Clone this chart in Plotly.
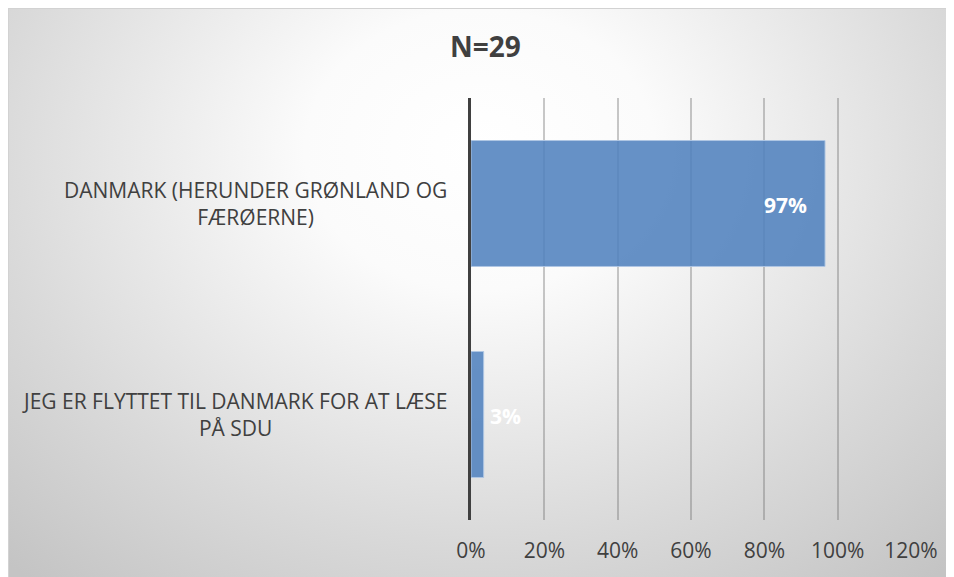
import plotly.graph_objects as go

# ---- data ----
categories = ["DANMARK (HERUNDER GRØNLAND OG FÆRØERNE)",
              "JEG ER FLYTTET TIL DANMARK FOR AT LÆSE PÅ SDU"]
category_lines = ["DANMARK (HERUNDER GRØNLAND OG<br>FÆRØERNE)",
                  "JEG ER FLYTTET TIL DANMARK FOR AT LÆSE<br>PÅ SDU"]
values = [0.9655, 0.0345]
value_labels = ["97%", "3%"]
tick_vals = [0, 0.2, 0.4, 0.6, 0.8, 1.0, 1.2]
tick_text = ["0%", "20%", "40%", "60%", "80%", "100%", "120%"]
title_text = "N=29"

# the page body adds an 8px margin; lay the figure out in screen pixels
SW, SH = 954, 577
OFF = 8
W, H = SW - OFF, SH - OFF
FONT = "Open Sans"
TXT = "#404040"


def px(sx):
    return (sx - OFF) / W


def py(sy):
    return 1 - (sy - OFF) / H


fig = go.Figure()

# background panel with radial gradient (own subplot, drawn first)
cx, cy, hw, hh = 480, 150, 700, 560
fig.add_trace(go.Scatter(
    x=[cx - hw, cx + hw, cx + hw, cx - hw, cx - hw],
    y=[cy - hh, cy - hh, cy + hh, cy + hh, cy - hh],
    mode="lines", fill="toself", line=dict(width=0),
    fillgradient=dict(type="radial",
                      colorscale=[[0, "#ffffff"], [0.25, "#fbfbfb"],
                                  [0.7, "#d9d9d9"], [1, "#c4c4c4"]]),
    hoverinfo="skip", showlegend=False, xaxis="x", yaxis="y"))

# bars
fig.add_trace(go.Bar(
    y=categories, x=values, orientation="h",
    marker=dict(color="rgba(79,129,189,0.87)",
                line=dict(color="rgba(175,198,228,0.95)", width=1)),
    hoverinfo="skip", showlegend=False, xaxis="x2", yaxis="y2"))

annotations = []
for cat, lines in zip(categories, category_lines):
    annotations.append(dict(
        xref="x2", yref="y2", x=0, y=cat, xanchor="right", yanchor="middle",
        xshift=-22, align="center", showarrow=False, text=lines,
        font=dict(family=FONT, size=21, color=TXT)))
for cat, v, lab in zip(categories, values, value_labels):
    inside = v > 0.5
    annotations.append(dict(
        xref="x2", yref="y2", x=v, y=cat,
        xanchor="right" if inside else "left", yanchor="middle",
        xshift=-16 if inside else 4, yshift=-1, showarrow=False, text="<b>" + lab + "</b>",
        font=dict(family=FONT, size=21, color="white")))
annotations.append(dict(
    xref="paper", yref="paper", x=px(485.5), y=py(46),
    xanchor="center", yanchor="middle", showarrow=False,
    text="<b>" + title_text + "</b>",
    font=dict(family=FONT, size=28, color=TXT)))

fig.update_layout(
    width=W, height=H,
    margin=dict(l=0, r=0, t=0, b=0, autoexpand=False),
    paper_bgcolor="white",
    plot_bgcolor="rgba(0,0,0,0)",
    bargap=0.403,
    showlegend=False,
    annotations=annotations,
    xaxis=dict(domain=[0, 1], range=[OFF, SW], visible=False, fixedrange=True,
               automargin=False),
    yaxis=dict(domain=[0, 1], range=[SH, OFF], visible=False, fixedrange=True,
               automargin=False),
    xaxis2=dict(domain=[px(471), px(911)], range=[0, 1.2], anchor="y2",
                automargin=False,
                tickvals=tick_vals, ticktext=tick_text,
                showgrid=True, gridcolor="rgba(110,110,110,0.38)", gridwidth=1.5,
                zeroline=False, showline=False,
                ticks="outside", ticklen=12, tickcolor="rgba(0,0,0,0)",
                tickfont=dict(family=FONT, size=21, color=TXT)),
    yaxis2=dict(domain=[py(520), py(98)], anchor="x2",
                automargin=False,
                autorange="reversed", showticklabels=False, ticks="",
                showline=True, linecolor="#404040", linewidth=3,
                showgrid=False, zeroline=False),
    shapes=[
        dict(type="line", xref="paper", yref="paper", x0=0, x1=1,
             y0=1 - 0.5 / H, y1=1 - 0.5 / H, line=dict(color="#d2d2d2", width=1)),
        dict(type="line", xref="paper", yref="paper", x0=0.5 / W, x1=0.5 / W,
             y0=0, y1=1, line=dict(color="#d2d2d2", width=1)),
    ],
)

fig.write_html("out.html")
